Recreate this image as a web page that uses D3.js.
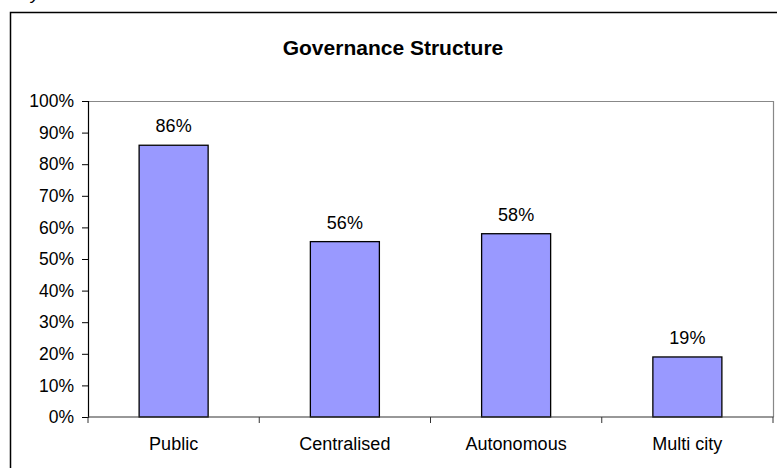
<!DOCTYPE html>
<html>
<head>
<meta charset="utf-8">
<script src="https://cdn.jsdelivr.net/npm/d3@7"></script>
<style>
  html, body { margin: 0; padding: 0; background: #fff; }
  svg { display: block; font-family: "Liberation Sans", Arial, sans-serif; }
</style>
</head>
<body>
<svg id="chart" width="777" height="468"></svg>
<script>
const categories = ["Public", "Centralised", "Autonomous", "Multi city"];
const values = [0.86, 0.555, 0.58, 0.19];
const valueLabels = ["86%", "56%", "58%", "19%"];
const yTicks = [0, 0.1, 0.2, 0.3, 0.4, 0.5, 0.6, 0.7, 0.8, 0.9, 1.0];
const title = "Governance Structure";

const svg = d3.select("#chart");
const plot = { left: 88, right: 773, top: 101, bottom: 417 };

// cut-off italic text above the frame (as in the reference)
svg.append("text").attr("x", 31).attr("y", 0)
  .attr("font-size", 17).attr("font-style", "italic").attr("fill", "#000").text("y");

// outer chart frame
svg.append("rect").attr("x", 10.5).attr("y", 12.5).attr("width", 820).attr("height", 520)
  .attr("fill", "#fff").attr("stroke", "#000").attr("stroke-width", 1.5);

svg.append("text").attr("x", 393).attr("y", 55).attr("text-anchor", "middle")
  .attr("font-size", 21).attr("font-weight", "bold").attr("fill", "#000").text(title);

const x = d3.scaleBand().domain(categories).range([plot.left, plot.right]).padding(0);
const y = d3.scaleLinear().domain([0, 1]).range([plot.bottom, plot.top]);

// plot area border (top and right, gray)
svg.append("path")
  .attr("d", `M${plot.left},${plot.top + 0.5}H${plot.right + 0.5}V${plot.bottom}`)
  .attr("fill", "none").attr("stroke", "#888").attr("stroke-width", 1.2);

// bars
const barW = x.bandwidth() * 0.403;
svg.append("g").selectAll("rect").data(categories).join("rect")
  .attr("x", d => x(d) + (x.bandwidth() - barW) / 2)
  .attr("y", (d, i) => y(values[i]))
  .attr("width", barW)
  .attr("height", (d, i) => y(0) - y(values[i]))
  .attr("fill", "#9999ff").attr("stroke", "#000").attr("stroke-width", 1.3);

// value labels
svg.append("g").selectAll("text").data(categories).join("text")
  .attr("x", d => x(d) + x.bandwidth() / 2)
  .attr("y", (d, i) => y(values[i]) - 13)
  .attr("text-anchor", "middle").attr("font-size", 18).attr("fill", "#000")
  .text((d, i) => valueLabels[i]);

// y axis
const yAxis = d3.axisLeft(y).tickValues(yTicks).tickFormat(d3.format(".0%")).tickSize(6).tickPadding(8);
const gy = svg.append("g").attr("transform", `translate(${plot.left},0)`).call(yAxis);
gy.select(".domain").attr("stroke", "#000").attr("stroke-width", 1.2);
gy.selectAll(".tick line").attr("stroke", "#000");
gy.selectAll(".tick text").attr("font-size", 17.5).attr("fill", "#000")
  .attr("font-family", "Liberation Sans, Arial, sans-serif");

// x axis with ticks at band boundaries
const gx = svg.append("g").attr("transform", `translate(0,${plot.bottom})`);
gx.append("line").attr("x1", plot.left).attr("x2", plot.right + 0.5)
  .attr("stroke", "#333").attr("stroke-width", 1.2);
const bounds = categories.map(c => x(c)).concat([x.range()[1]]);
gx.selectAll("line.tk").data(bounds).join("line").attr("class", "tk")
  .attr("x1", d => d).attr("x2", d => d).attr("y1", 0).attr("y2", 6)
  .attr("stroke", "#333");
gx.selectAll("text").data(categories).join("text")
  .attr("x", d => x(d) + x.bandwidth() / 2).attr("y", 33)
  .attr("text-anchor", "middle").attr("font-size", 18).attr("fill", "#000")
  .text(d => d);
</script>
</body>
</html>
